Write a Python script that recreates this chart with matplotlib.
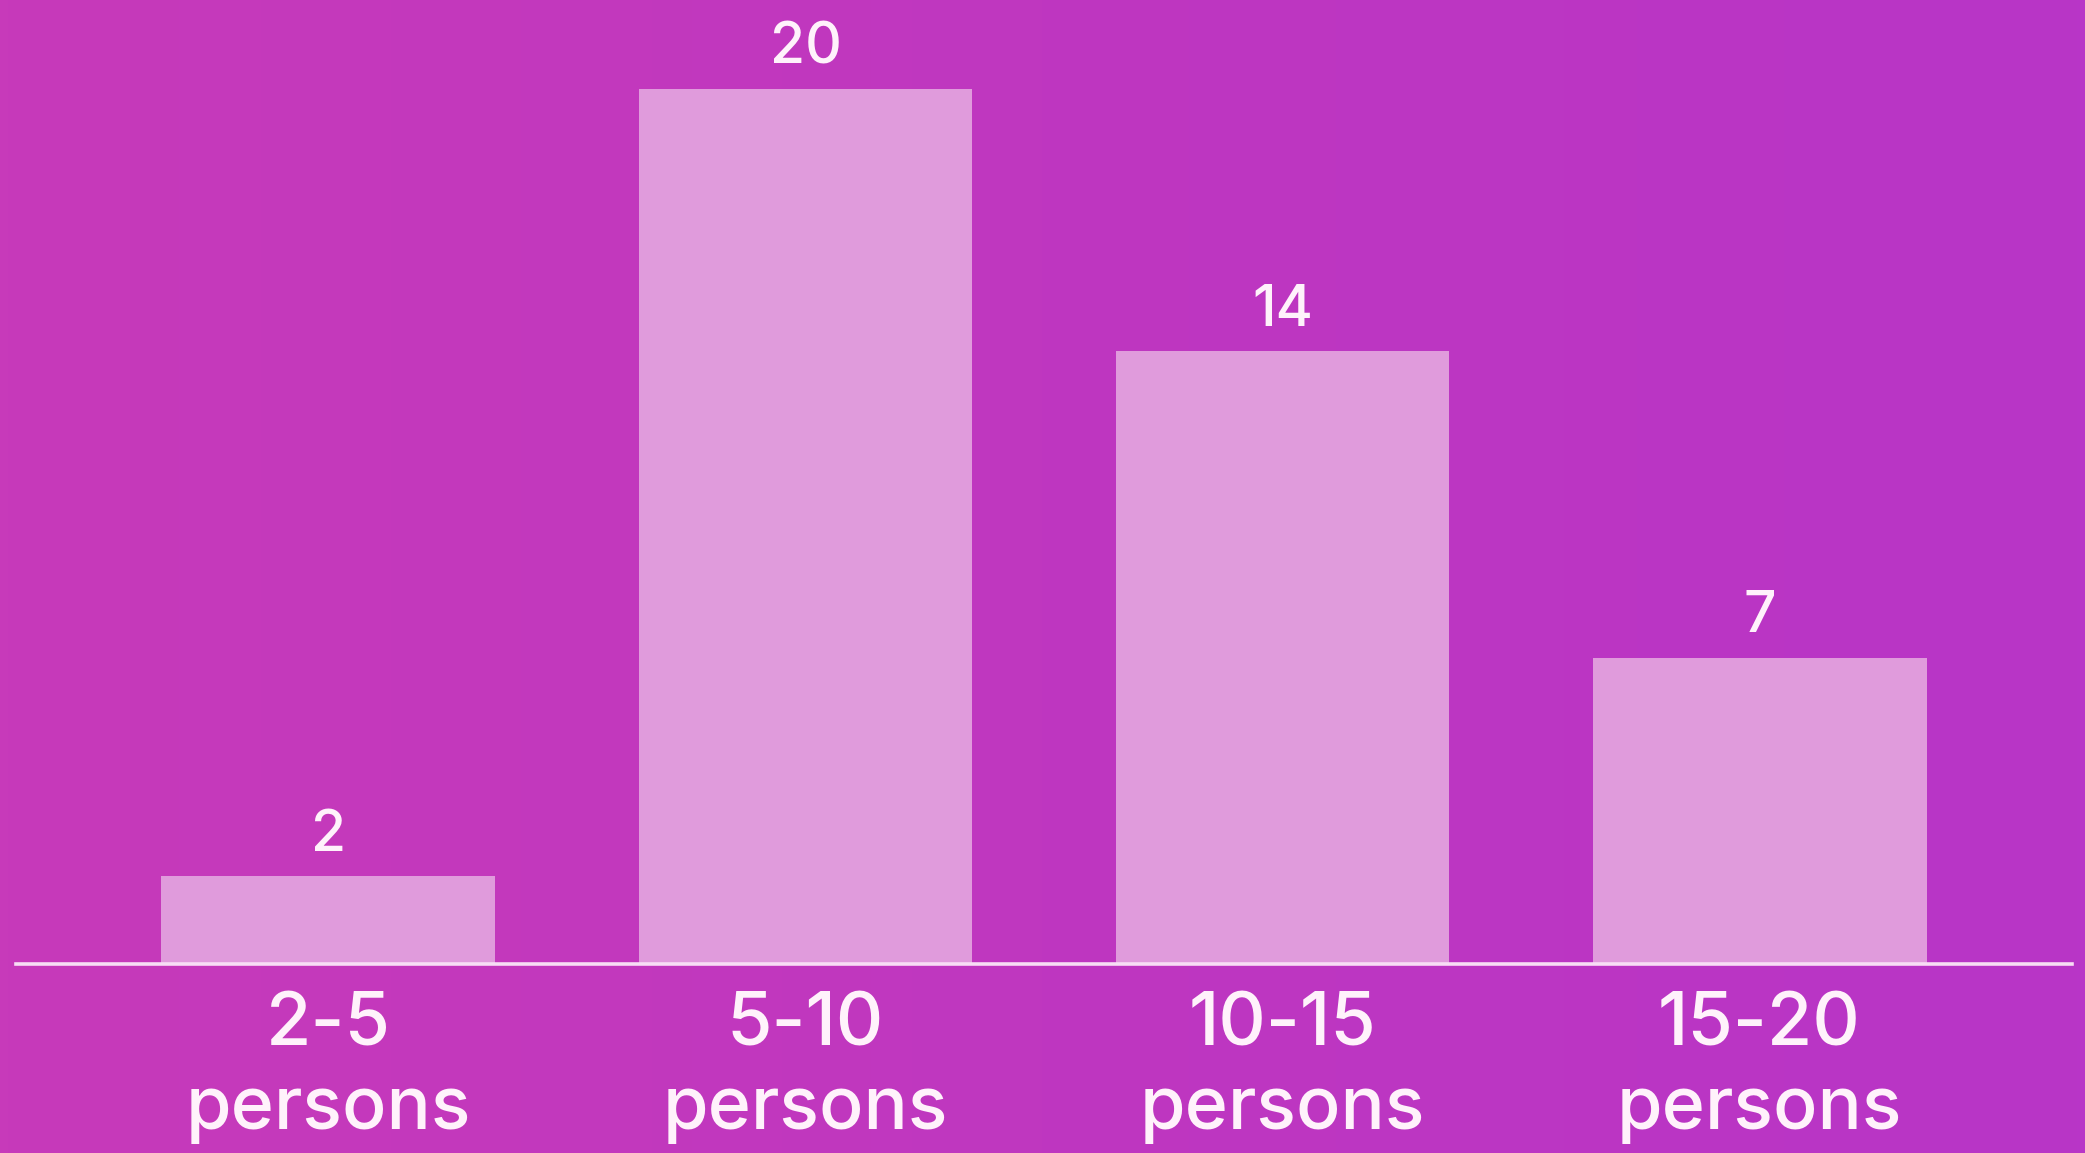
import matplotlib
matplotlib.use("Agg")
import matplotlib.pyplot as plt
import numpy as np
from matplotlib.colors import LinearSegmentedColormap

categories = ["2-5\npersons", "5-10\npersons", "10-15\npersons", "15-20\npersons"]
values = [2, 20, 14, 7]

W, H, DPI = 2085, 1153, 100
fig = plt.figure(figsize=(W / DPI, H / DPI), dpi=DPI)

# background gradient
bg = fig.add_axes([0, 0, 1, 1])
cmap = LinearSegmentedColormap.from_list("bg", ["#C73ABA", "#BF37C0", "#B835C7"])
grad = np.linspace(0, 1, 256).reshape(1, -1)
bg.imshow(grad, aspect="auto", cmap=cmap, extent=[0, 1, 0, 1])
bg.set_axis_off()

font = "Inter"
txt_color = "#FFF2FB"

left_px, right_px = 16, 2072
base_px = 964
ax = fig.add_axes([left_px / W, (H - base_px) / H, (right_px - left_px) / W, base_px / H])
ax.patch.set_alpha(0)
x = np.arange(len(categories))
ax.bar(x, values, width=0.7, color="#E09BDC", zorder=2)
ax.set_xlim(-0.655, 3.655)
ax.set_ylim(0, 22.03)
for s in ["top", "right", "left"]:
    ax.spines[s].set_visible(False)
ax.spines["bottom"].set_color("#F8DDF5")
ax.spines["bottom"].set_linewidth(2.6)
ax.spines["bottom"].set_zorder(3)
ax.set_yticks([])
ax.set_xticks([])

for xi, v in zip(x, values):
    ax.annotate(str(v), (xi, v), xytext=(0, 18.5), textcoords="offset points",
                ha="center", va="baseline", fontsize=41, color=txt_color,
                family=font, fontweight="medium")

for xi, lab in zip(x, categories):
    l1, l2 = lab.split("\n")
    ax.annotate(l1, (xi, 0), xytext=(0, -59), textcoords="offset points",
                ha="center", va="baseline", fontsize=53, color=txt_color,
                family=font, fontweight="medium", annotation_clip=False)
    ax.annotate(l2, (xi, 0), xytext=(0, -119), textcoords="offset points",
                ha="center", va="baseline", fontsize=53, color=txt_color,
                family=font, fontweight="medium", annotation_clip=False)

fig.savefig("out.png", dpi=DPI)
